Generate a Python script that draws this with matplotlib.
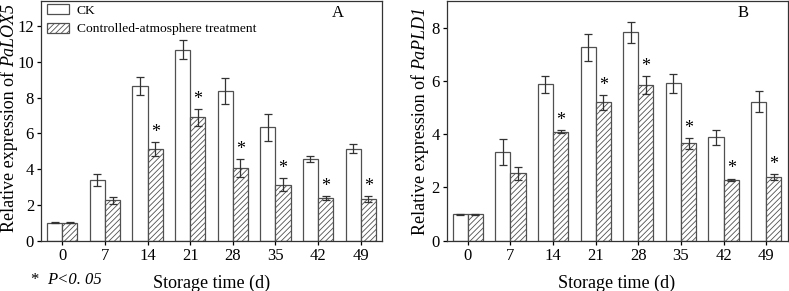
import matplotlib
matplotlib.use("Agg")
import matplotlib.pyplot as plt
import numpy as np

plt.rcParams["font.family"] = ["Liberation Serif", "DejaVu Serif"]
plt.rcParams["hatch.color"] = "#777777"
plt.rcParams["hatch.linewidth"] = 0.6

days = ["0", "7", "14", "21", "28", "35", "42", "49"]

# Panel A: PaLOX5
lox_ck = [1.0, 3.4, 8.65, 10.67, 8.37, 6.33, 4.56, 5.15]
lox_ck_err = [0.03, 0.35, 0.5, 0.53, 0.75, 0.75, 0.17, 0.25]
lox_ca = [1.0, 2.26, 5.13, 6.89, 4.07, 3.13, 2.37, 2.33]
lox_ca_err = [0.03, 0.2, 0.4, 0.46, 0.5, 0.35, 0.12, 0.15]
lox_sig = [False, False, True, True, True, True, True, True]

# Panel B: PaPLD1
pld_ck = [1.0, 3.32, 5.87, 7.26, 7.82, 5.91, 3.88, 5.22]
pld_ck_err = [0.02, 0.49, 0.31, 0.5, 0.41, 0.36, 0.29, 0.4]
pld_ca = [1.0, 2.53, 4.09, 5.19, 5.84, 3.65, 2.29, 2.39]
pld_ca_err = [0.02, 0.25, 0.06, 0.28, 0.34, 0.21, 0.04, 0.12]
pld_sig = [False, False, True, True, True, True, True, True]

W, H = 789, 291
fig = plt.figure(figsize=(W / 100, H / 100), dpi=100)
ax1 = fig.add_axes([41 / W, 1 - 240.7 / H, 341 / W, 239.7 / H])
ax2 = fig.add_axes([446.5 / W, 1 - 240.7 / H, 341 / W, 239.7 / H])

x = np.arange(len(days))
w = 0.355
edge = "#505050"


def ylabel_mixed(x_right, y_center, gene, length=228, fs=12.0):
    # y label with an italic gene name, built from two rotated texts
    r = fig.canvas.get_renderer()
    kw = dict(rotation=90, rotation_mode="anchor", ha="left", va="bottom")
    t1 = fig.text(0, 0, "Relative expression of ", fontsize=fs, **kw)
    t2 = fig.text(0, 0, gene, fontsize=fs, style="italic", **kw)
    total = t1.get_window_extent(r).height + t2.get_window_extent(r).height
    fs = fs * length / total
    t1.set_fontsize(fs)
    t2.set_fontsize(fs)
    h1 = t1.get_window_extent(r).height
    h2 = t2.get_window_extent(r).height
    y0 = (H - y_center) - (h1 + h2) / 2
    t1.set_position((x_right / W, y0 / H))
    t2.set_position((x_right / W, (y0 + h1) / H))


def draw_panel(ax, ck, ck_err, ca, ca_err, sig, ymax, yticks, letter):
    ekw = dict(ecolor="#333333", elinewidth=0.9, capsize=3, capthick=0.9)
    ax.bar(x - w / 2, ck, w, yerr=ck_err, color="white", edgecolor=edge,
           linewidth=0.9, error_kw=ekw, label="CK")
    ax.bar(x + w / 2, ca, w, yerr=ca_err, color="white", edgecolor=edge,
           linewidth=0.9, hatch="//////", error_kw=ekw,
           label="Controlled-atmosphere treatment")
    for i, s in enumerate(sig):
        if s:
            ax.text(x[i] + w / 2, ca[i] + ca_err[i] + ymax * 0.005, "*",
                    ha="center", va="bottom", fontsize=13)
    ax.set_xlim(-0.5, 7.5)
    ax.set_ylim(0, ymax)
    ax.set_xticks(x)
    ax.set_xticklabels(days)
    ax.set_yticks(yticks)
    ax.tick_params(direction="out", length=3, width=0.9, labelsize=12, pad=2)
    for sp in ax.spines.values():
        sp.set_linewidth(0.9)
        sp.set_color("#333333")
    ax.set_xlabel("Storage time (d)", fontsize=13, labelpad=8)
    ax.text(0.87, 0.95, letter, transform=ax.transAxes, fontsize=12,
            ha="center", va="center")


draw_panel(ax1, lox_ck, lox_ck_err, lox_ca, lox_ca_err, lox_sig, 13.4,
           [0, 2, 4, 6, 8, 10, 12], "A")
draw_panel(ax2, pld_ck, pld_ck_err, pld_ca, pld_ca_err, pld_sig, 9.0,
           [0, 2, 4, 6, 8], "B")

fig.canvas.draw()
ylabel_mixed(18, 118, "PaLOX5")
ylabel_mixed(429, 121, "PaPLD1")

ax1.legend(loc="upper left", frameon=False, fontsize=9.7, handlelength=1.6,
           handleheight=0.8, borderaxespad=0.0, borderpad=0.2,
           labelspacing=0.45, handletextpad=0.6, bbox_to_anchor=(0.01, 1.0))

fig.text(30 / W, 1 - 280 / H, "*", fontsize=12, va="center")
fig.text(47 / W, 1 - 280 / H, "P<0. 05", fontsize=12, va="center",
         style="italic")

fig.savefig("out.png", dpi=100)
